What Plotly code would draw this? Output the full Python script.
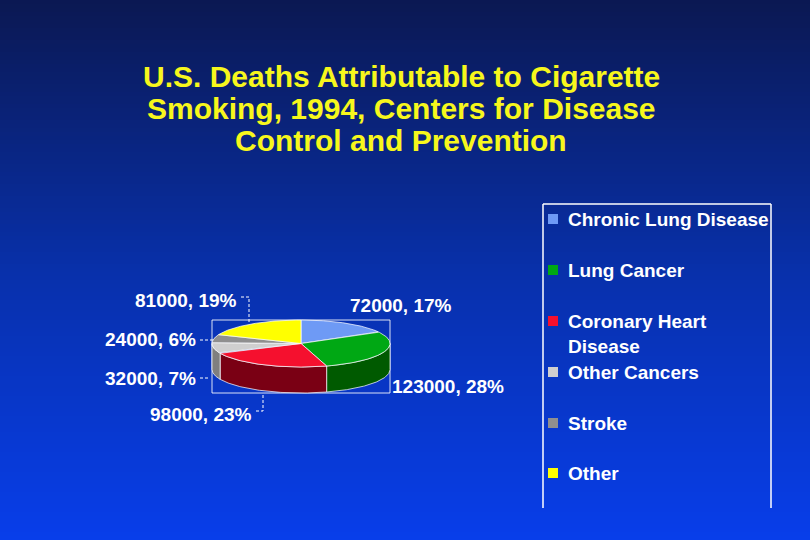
import textwrap
import numpy as np
import plotly.graph_objects as go

# ---------------- data ----------------
categories = ["Chronic Lung Disease", "Lung Cancer", "Coronary Heart Disease",
              "Other Cancers", "Stroke", "Other"]
deaths = [72000, 123000, 98000, 32000, 24000, 81000]
pct_labels = [17, 28, 23, 7, 6, 19]
title_lines = ["U.S. Deaths Attributable to Cigarette",
               "Smoking, 1994, Centers for Disease",
               "Control and Prevention"]

# ---------------- style ----------------
top_colors = ["#6e9af5", "#00a814", "#f5102e", "#cfcfcf", "#8f8f8f", "#ffff00"]
side_colors = ["#3a5ab0", "#005a00", "#7a0014", "#7f7f7f", "#555555", "#a0a000"]
FONT = "Liberation Sans, Arial, sans-serif"
W, H = 810, 540
CX, CY, RX, RY, DEPTH = 301, 343.5, 89, 23.5, 26

# label placement (pixel layout) : (x, y, anchor)
label_pos = [(348, 305, "left"), (390, 386, "left"), (254, 414, "right"),
             (198, 378, "right"), (198, 339, "right"), (239, 300, "right")]
leaders = [None, None,
           [(256, 411), (263, 411), (263, 393)],
           [(200, 378), (208, 378)],
           [(200, 340), (213, 340)],
           [(241, 297), (249, 297), (249, 322)]]

legend_y = [219, 270, 321, 372, 423, 473]

fig = go.Figure()
shapes = []

# background gradient
stops = [(0.0, (11, 24, 82)), (0.5, (8, 48, 170)), (1.0, (8, 62, 234))]
def grad(t):
    for (t0, c0), (t1, c1) in zip(stops[:-1], stops[1:]):
        if t <= t1:
            f = (t - t0) / (t1 - t0)
            return "rgb(%d,%d,%d)" % tuple(round(a + (b - a) * f) for a, b in zip(c0, c1))
    return "rgb(%d,%d,%d)" % stops[-1][1]
step = 4
for y0 in range(0, H, step):
    shapes.append(dict(type="rect", xref="x", yref="y", x0=0, x1=W, y0=y0, y1=y0 + step + 0.5,
                       fillcolor=grad((y0 + step / 2) / H), line=dict(width=0), layer="below"))

# bounding rectangle of the pie
shapes.append(dict(type="rect", xref="x", yref="y", x0=CX - RX, x1=CX + RX,
                   y0=CY - RY, y1=CY + RY + DEPTH,
                   line=dict(color="rgba(255,255,255,0.85)", width=1), layer="below"))

total = sum(deaths)
angles = np.concatenate([[0], np.cumsum(deaths) / total * 360.0])

def pt(a, dy=0.0):
    r = np.radians(a)
    return CX + RX * np.sin(r), CY - RY * np.cos(r) + dy

edge = dict(color="rgba(255,255,255,0.9)", width=0.8)

# side walls (front half only: 90..270 deg)
for i in range(len(deaths)):
    s0, s1 = max(angles[i], 90), min(angles[i + 1], 270)
    if s1 <= s0:
        continue
    arc = np.linspace(s0, s1, 80)
    xs = [pt(a)[0] for a in arc] + [pt(a, DEPTH)[0] for a in arc[::-1]]
    ys = [pt(a)[1] for a in arc] + [pt(a, DEPTH)[1] for a in arc[::-1]]
    fig.add_trace(go.Scatter(x=xs + [xs[0]], y=ys + [ys[0]], mode="lines", fill="toself",
                             fillcolor=side_colors[i], line=edge, hoverinfo="skip",
                             showlegend=False))

# top faces
for i in range(len(deaths)):
    arc = np.linspace(angles[i], angles[i + 1], 120)
    xs = [CX] + [pt(a)[0] for a in arc] + [CX]
    ys = [CY] + [pt(a)[1] for a in arc] + [CY]
    fig.add_trace(go.Scatter(x=xs, y=ys, mode="lines", fill="toself",
                             fillcolor=top_colors[i], line=edge,
                             name=categories[i], hoverinfo="name", showlegend=False))

annotations = []
lab_font = dict(family=FONT, size=19, color="white", weight="bold")

# data labels + leader lines
for i, v in enumerate(deaths):
    x, y, anc = label_pos[i]
    annotations.append(dict(x=x, y=y, xref="x", yref="y", text=f"{v}, {pct_labels[i]}%",
                            showarrow=False, xanchor=anc, yanchor="middle", font=lab_font))
    if leaders[i]:
        pts = leaders[i]
        path = "M " + " L ".join(f"{px},{py}" for px, py in pts)
        shapes.append(dict(type="path", xref="x", yref="y", path=path,
                           line=dict(color="white", width=1, dash="3px,2px"), layer="above"))

# title
for k, line in enumerate(title_lines):
    annotations.append(dict(x=401, y=76 + 32 * k, xref="x", yref="y", text=line, showarrow=False,
                            xanchor="center", yanchor="middle",
                            font=dict(family=FONT, size=30, color="#f7f71c", weight="bold")))

# legend (manual)
LX0, LX1, LY0, LY1 = 543, 771, 204, 508
for (xa, ya, xb, yb) in [(LX0, LY0, LX1, LY0), (LX0, LY0, LX0, LY1), (LX1, LY0, LX1, LY1)]:
    shapes.append(dict(type="line", xref="x", yref="y", x0=xa, y0=ya, x1=xb, y1=yb,
                       line=dict(color="white", width=1.5), layer="above"))
fig.add_trace(go.Scatter(x=[553] * len(categories), y=legend_y, mode="markers",
                         marker=dict(symbol="square", size=10, color=top_colors,
                                     line=dict(width=0)),
                         hoverinfo="skip", showlegend=False))
for i, c in enumerate(categories):
    txt = "<br>".join(textwrap.wrap(c, 20))
    annotations.append(dict(x=566, y=legend_y[i] - 12.5, xref="x", yref="y", text=txt,
                            showarrow=False, xanchor="left", yanchor="top", align="left",
                            font=lab_font))

fig.update_layout(
    width=W, height=H, margin=dict(l=0, r=0, t=0, b=0),
    paper_bgcolor="#0a2a9a", plot_bgcolor="rgba(0,0,0,0)",
    xaxis=dict(range=[0, W], visible=False, fixedrange=True),
    yaxis=dict(range=[H, 0], visible=False, fixedrange=True),
    shapes=shapes, annotations=annotations, showlegend=False,
)
fig.write_html("out.html", config={"displayModeBar": False},
               post_script="document.body.style.margin='0';document.body.style.overflow='hidden';")
